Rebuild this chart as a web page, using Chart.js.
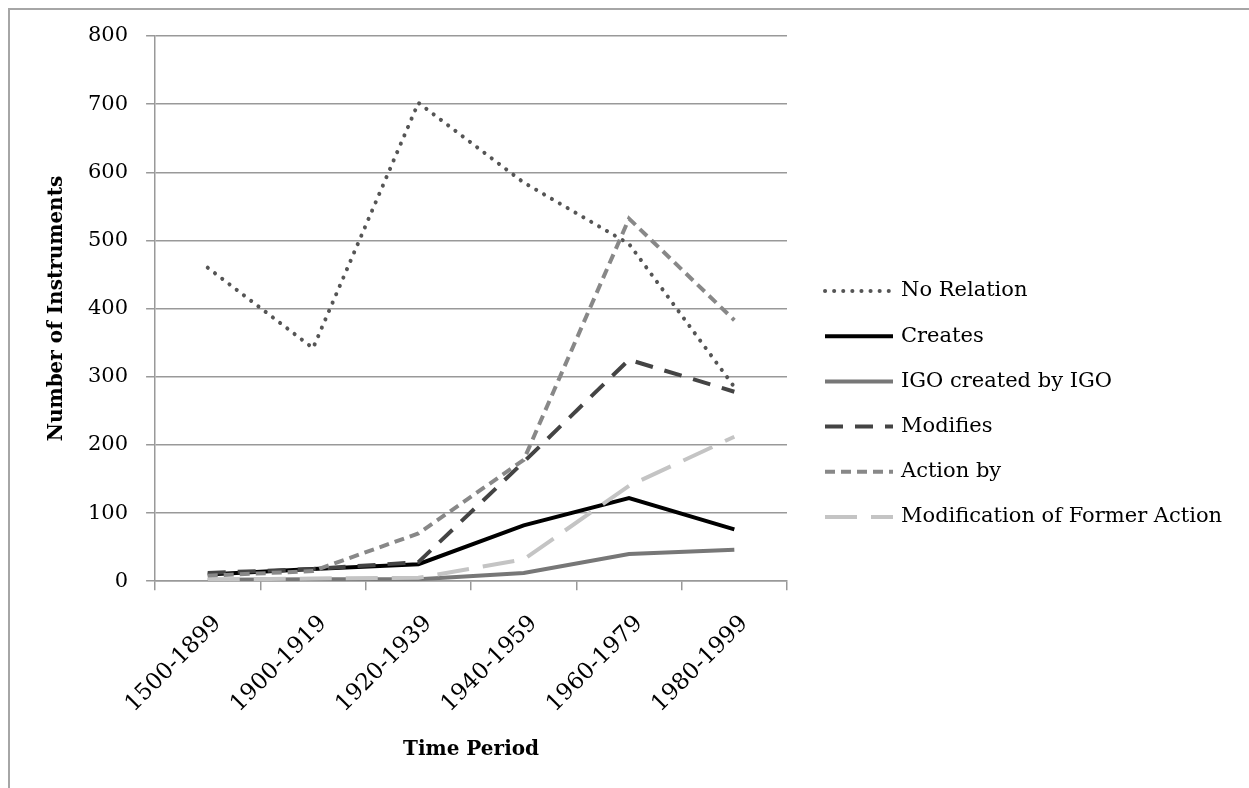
<!DOCTYPE html>
<html lang="en">
<head>
<meta charset="UTF-8">
<title>Number of Instruments by Time Period</title>
<script src="https://cdn.jsdelivr.net/npm/chart.js"></script>
<style>
  html, body { margin: 0; padding: 0; background: #fff; overflow: hidden; }
  #frame { position: absolute; left: 8px; top: 8px; width: 1400px; height: 900px; border: 2px solid #a6a6a6; box-sizing: border-box; }
  #myChart { position: absolute; left: 0; top: 0; }
</style>
</head>
<body>
<div id="frame"></div>
<canvas id="myChart" width="1249" height="788"></canvas>
<script>
// values
const periods = ['1500-1899', '1900-1919', '1920-1939', '1940-1959', '1960-1979', '1980-1999'];
const noRelation = [460, 342, 702, 585, 495, 285];
const creates = [10, 18, 25, 82, 122, 76];
const igoByIgo = [2, 3, 3, 12, 40, 46];
const modifies = [12, 18, 28, 175, 325, 278];
const actionBy = [8, 15, 70, 178, 532, 383];
const modFormer = [2, 4, 5, 32, 140, 212];
const yTicks = [0, 100, 200, 300, 400, 500, 600, 700, 800];

const serif = 'DejaVu Serif';

function line(label, data, color, dash, cap) {
    return {
        label: label,
        data: data,
        borderColor: color,
        backgroundColor: color,
        borderWidth: 4,
        borderDash: dash,
        borderCapStyle: cap || 'butt',
        pointRadius: 0,
        pointHoverRadius: 0,
        fill: false,
        tension: 0
    };
}

let datasets = [
    line('No Relation', noRelation, '#555555', [0.1, 9], 'round'),
    line('Creates', creates, '#000000', []),
    line('IGO created by IGO', igoByIgo, '#777777', []),
    line('Modifies', modifies, '#444444', [18, 12]),
    line('Action by', actionBy, '#888888', [10, 6]),
    line('Modification of Former Action', modFormer, '#c4c4c4', [32, 14])
];
// later series on top, like the original
datasets.forEach(function(d, i) { d.order = datasets.length - i; });

// legend drawn by hand so the line samples keep their dashes
const sideLegend = {
    id: 'sideLegend',
    afterDraw: function(chart) {
        const c = chart.ctx;
        const x = chart.chartArea.right + 38;
        chart.data.datasets.forEach(function(ds, i) {
            const y = 291 + i * 45.2;
            c.save();
            c.strokeStyle = ds.borderColor;
            c.lineWidth = ds.borderWidth;
            c.lineCap = ds.borderCapStyle;
            c.setLineDash(ds.borderDash);
            c.beginPath();
            c.moveTo(x, y);
            c.lineTo(x + 68, y);
            c.stroke();
            c.setLineDash([]);
            c.fillStyle = '#000';
            c.font = '21px "' + serif + '"';
            c.textBaseline = 'middle';
            c.fillText(ds.label, x + 76, y);
            c.restore();
        });
    }
};

const ctx = document.getElementById('myChart');
new Chart(ctx, {
    type: 'line',
    data: { labels: periods, datasets: datasets },
    plugins: [sideLegend],
    options: {
        responsive: false,
        animation: false,
        layout: { padding: { left: 45, top: 36, right: 462, bottom: 26 } },
        plugins: {
            tooltip: { enabled: false },
            legend: { display: false }
        },
        scales: {
            x: {
                offset: true,
                grid: { offset: true, drawOnChartArea: false, drawTicks: true, tickLength: 9, color: '#999', lineWidth: 1.5 },
                border: { color: '#999', width: 1.5 },
                ticks: { color: '#000', font: { family: serif, size: 23 }, minRotation: 45, maxRotation: 45, labelOffset: 10, padding: 20 },
                title: { display: true, text: 'Time Period', color: '#000', font: { family: serif, size: 20, weight: 'bold' }, padding: { top: 0, bottom: 0 } }
            },
            y: {
                min: 0,
                max: 800,
                afterBuildTicks: function(s) { s.ticks = yTicks.map(function(v) { return { value: v }; }); },
                grid: { color: '#999', lineWidth: 1.5, tickLength: 9 },
                border: { color: '#999', width: 1.5 },
                ticks: { color: '#000', font: { family: serif, size: 21 }, padding: 18 },
                title: { display: true, text: 'Number of Instruments', color: '#000', font: { family: serif, size: 20, weight: 'bold' }, padding: { top: 0, bottom: 1 } }
            }
        }
    }
});
</script>
</body>
</html>
